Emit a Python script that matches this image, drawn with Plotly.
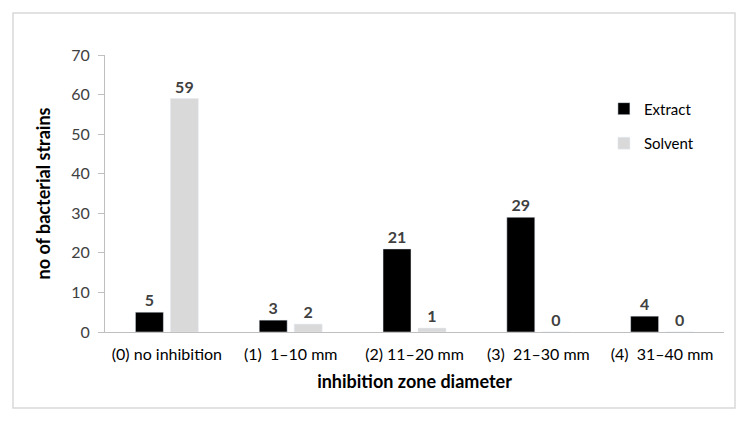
import plotly.graph_objects as go

categories = ["(0) no inhibition", "(1)  1\u201310 mm", "(2) 11\u201320 mm", "(3)  21\u201330 mm", "(4)  31\u201340 mm"]
extract = [5, 3, 21, 29, 4]
solvent = [59, 2, 1, 0, 0]

FONT = "Lato, Carlito, Calibri, sans-serif"
TXT = "#404040"

fig = go.Figure()
fig.add_trace(go.Bar(
    name="Extract", x=categories, y=extract, marker_color="#000000",
    text=extract, textposition="outside", cliponaxis=False,
    textfont=dict(family=FONT, size=16, color=TXT, weight="bold"),
    legendgroup="a",
))
fig.add_trace(go.Bar(
    name="Solvent", x=categories, y=solvent, marker_color="#d9d9d9",
    text=solvent, textposition="outside", cliponaxis=False,
    textfont=dict(family=FONT, size=16, color=TXT, weight="bold"),
    legendgroup="b",
))

# page body adds ~8px offset, so the figure is sized to the visible area
fig.update_layout(
    width=738, height=414,
    margin=dict(l=97, r=22, t=47, b=90),
    paper_bgcolor="white", plot_bgcolor="white",
    barmode="group", bargap=0.435, bargroupgap=0.2,
    font=dict(family=FONT, size=16, color=TXT),
    showlegend=True,
    legend=dict(x=0.806, y=0.865, xanchor="left", yanchor="top",
                bgcolor="rgba(0,0,0,0)", font=dict(size=15, color="#000000"),
                traceorder="grouped", tracegroupgap=12),
    xaxis=dict(
        automargin=False,
        showline=True, linecolor="#bfbfbf", linewidth=1,
        ticks="", showgrid=False, ticklabelstandoff=8,
        tickfont=dict(size=16, color="#000000"),
        title=dict(text="<b>inhibition zone diameter</b>", font=dict(size=18, color="#000000"), standoff=13),
    ),
    yaxis=dict(
        automargin=False,
        range=[0, 70], dtick=10, showgrid=False, zeroline=False,
        showline=True, linecolor="#bfbfbf", linewidth=1,
        ticks="outside", ticklen=6, tickcolor="#bfbfbf", ticklabelstandoff=5,
        tickfont=dict(size=16, color=TXT),
        title=dict(text="<b>no of bacterial strains</b>", font=dict(size=18, color="#000000"), standoff=15),
    ),
    shapes=[dict(type="rect", xref="paper", yref="paper",
                 x0=-92/619, x1=1 + 11/619, y0=-76/277, y1=1 + 42/277,
                 line=dict(color="#d9d9d9", width=1.5), fillcolor="rgba(0,0,0,0)")],
)

fig.write_html("out.html")
